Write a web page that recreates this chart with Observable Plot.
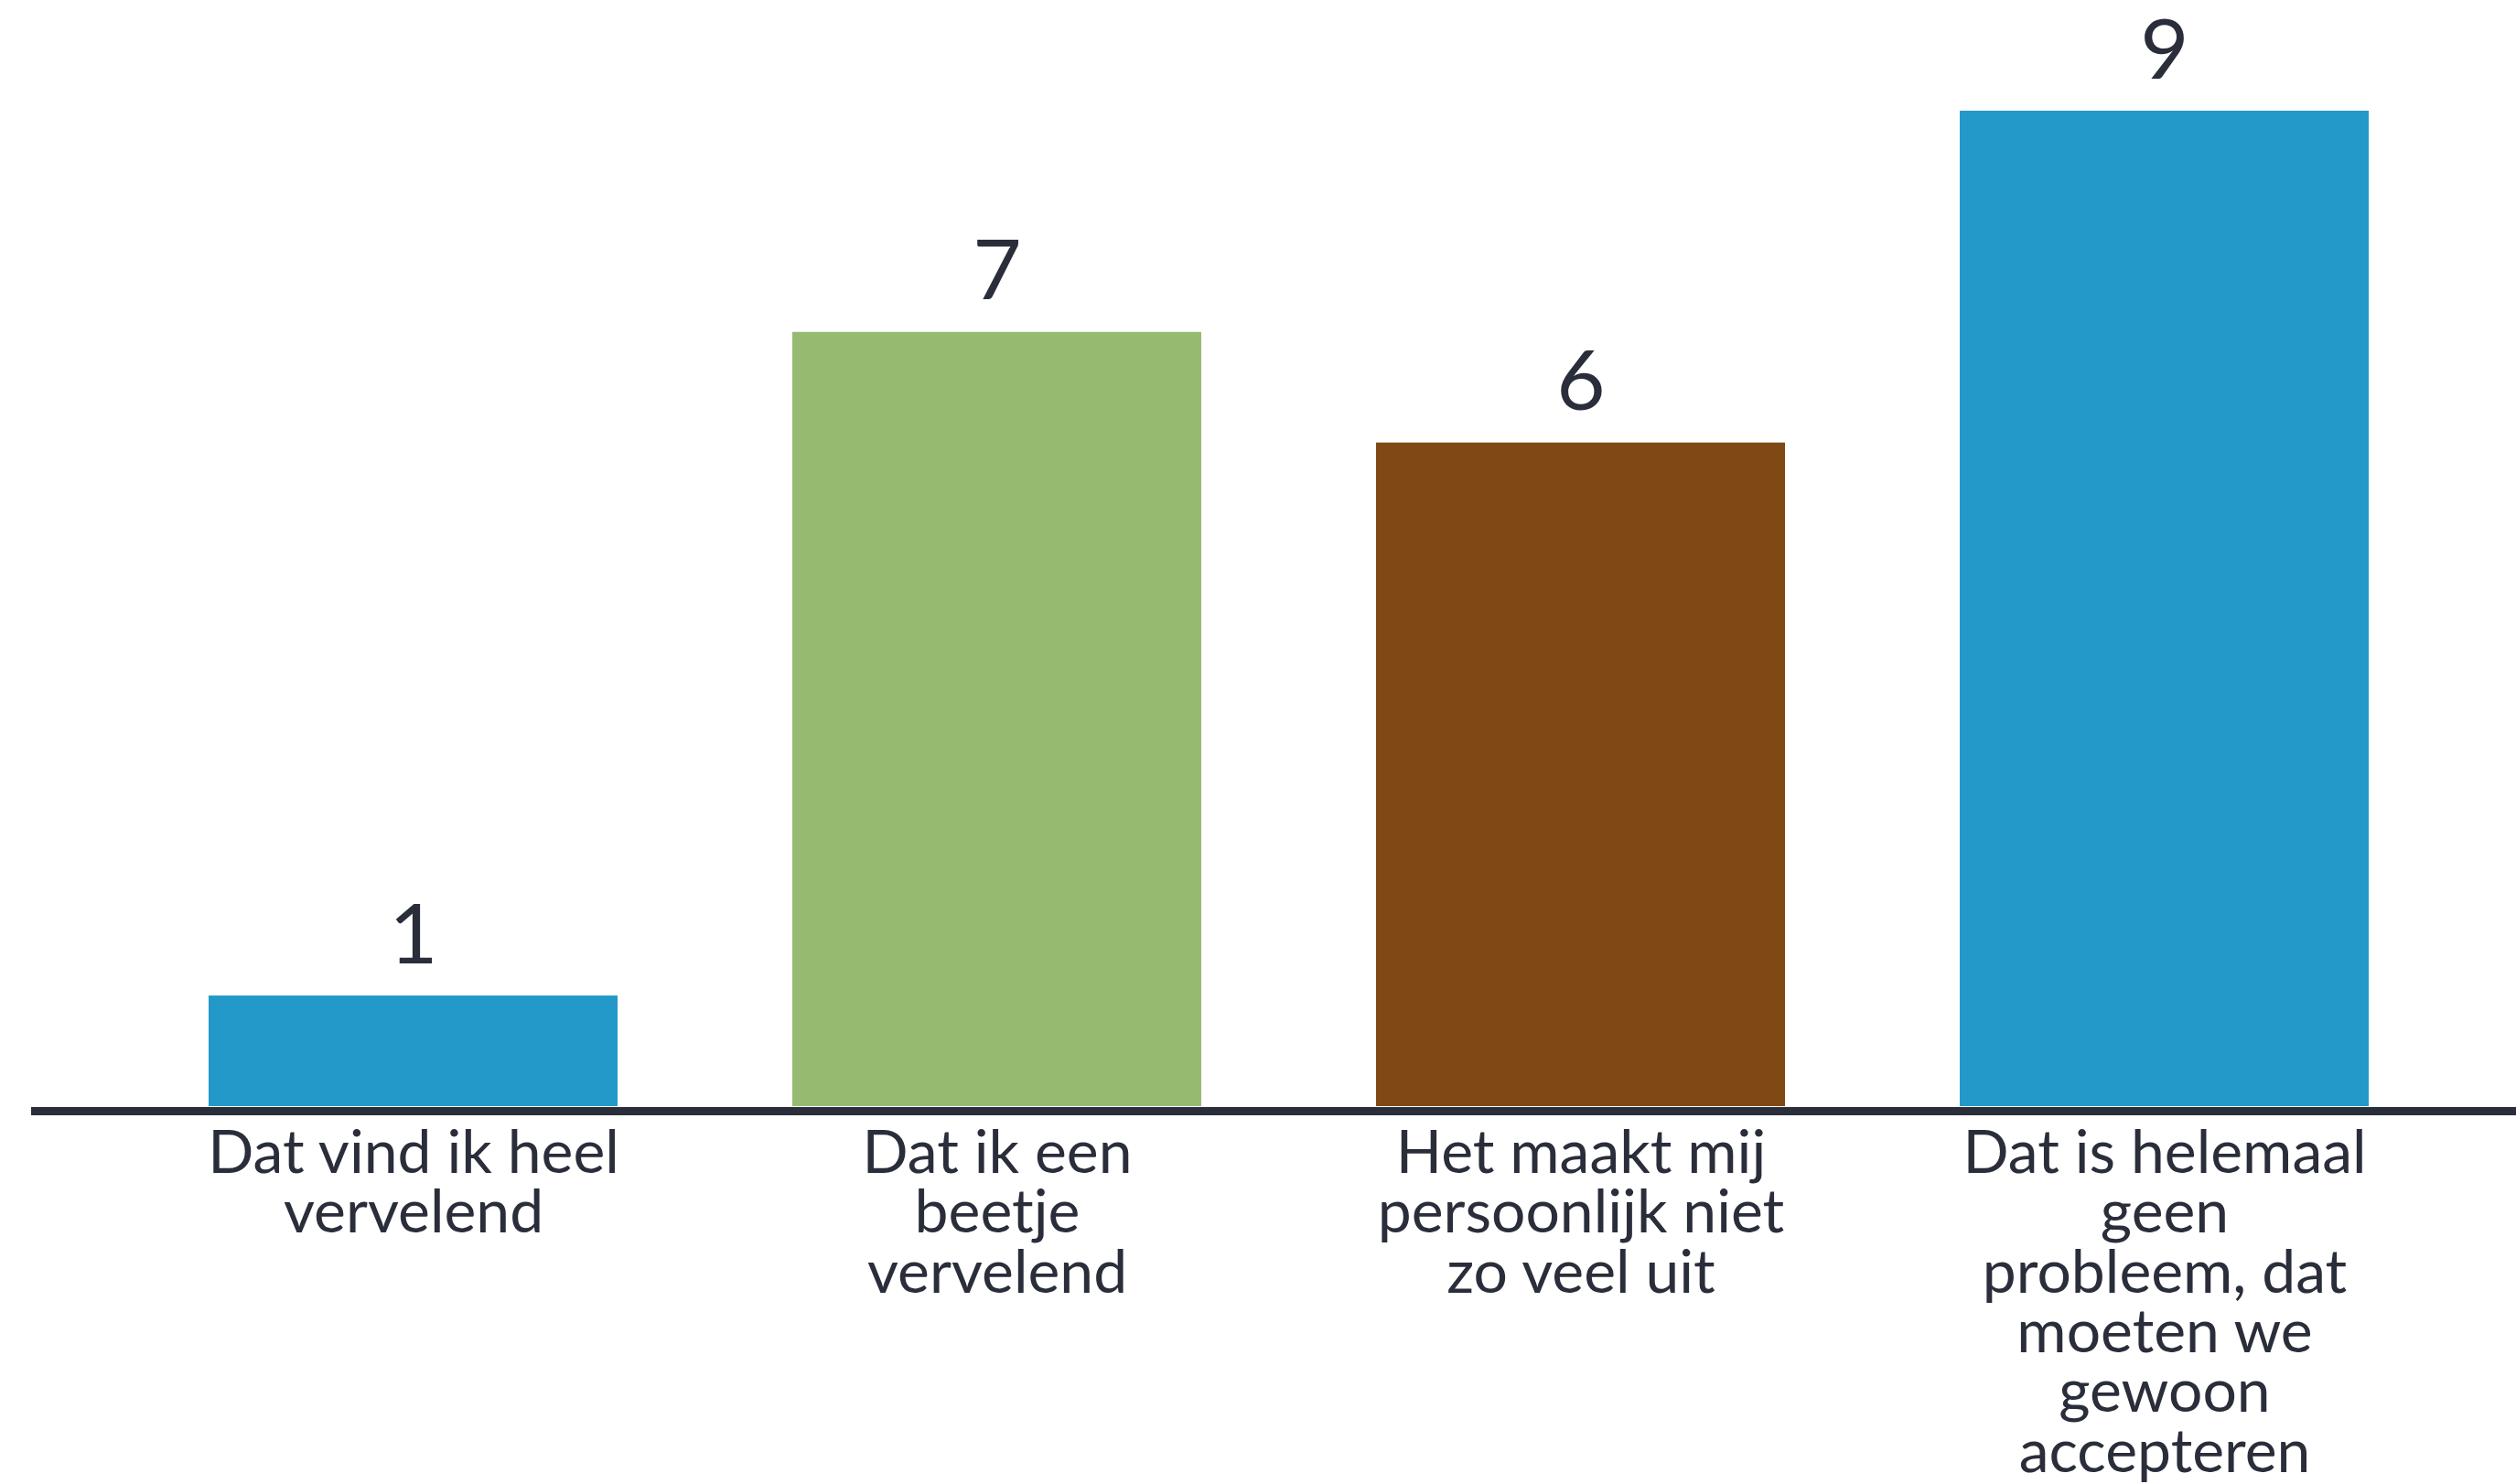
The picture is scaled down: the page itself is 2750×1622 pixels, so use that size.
<!DOCTYPE html>
<html>
<head>
<meta charset="utf-8">
<script src="https://cdn.jsdelivr.net/npm/d3@7"></script>
<script src="https://cdn.jsdelivr.net/npm/@observablehq/plot@0.6"></script>
<style>
  html, body { margin: 0; padding: 0; background: #ffffff; }
  #chart svg { display: block; }
</style>
</head>
<body>
<div id="chart"></div>
<script>
const categories = [
  "Dat vind ik heel vervelend",
  "Dat ik een beetje vervelend",
  "Het maakt mij persoonlijk niet zo veel uit",
  "Dat is helemaal geen probleem, dat moeten we gewoon accepteren"
];
const tickLabels = [
  "Dat vind ik heel\nvervelend",
  "Dat ik een\nbeetje\nvervelend",
  "Het maakt mij\npersoonlijk niet\nzo veel uit",
  "Dat is helemaal\ngeen\nprobleem, dat\nmoeten we\ngewoon\naccepteren"
];
const values = [1, 7, 6, 9];
const colors = ["#2299c8", "#96bb70", "#7f4814", "#2299c8"];

const data = categories.map((c, i) => ({category: c, value: values[i], color: colors[i]}));
const labelOf = new Map(categories.map((c, i) => [c, tickLabels[i]]));
const ink = "#2a2e3a";

const chart = Plot.plot({
  width: 2750,
  height: 1622,
  marginTop: 121,
  marginBottom: 413,
  marginLeft: 228,
  marginRight: 161,
  style: {fontFamily: "Lato, 'Noto Sans', sans-serif", background: "#ffffff", color: ink},
  x: {domain: categories, paddingInner: 0.3, paddingOuter: 0, label: null},
  y: {domain: [0, 9], axis: null},
  marks: [
    Plot.barY(data, {x: "category", y: "value", fill: "color"}),
    Plot.ruleY([0], {stroke: ink, strokeWidth: 9, dy: 5, insetLeft: -194, insetRight: -161}),
    Plot.text(data, {x: "category", y: "value", text: d => String(d.value), lineAnchor: "bottom", dy: -36, fontSize: 92, fill: ink}),
    Plot.axisX({
      tickSize: 0,
      tickPadding: 26,
      fontSize: 66,
      lineHeight: 0.99,
      tickFormat: d => labelOf.get(d),
      fill: ink,
      label: null
    })
  ]
});
document.getElementById("chart").appendChild(chart);
</script>
</body>
</html>
